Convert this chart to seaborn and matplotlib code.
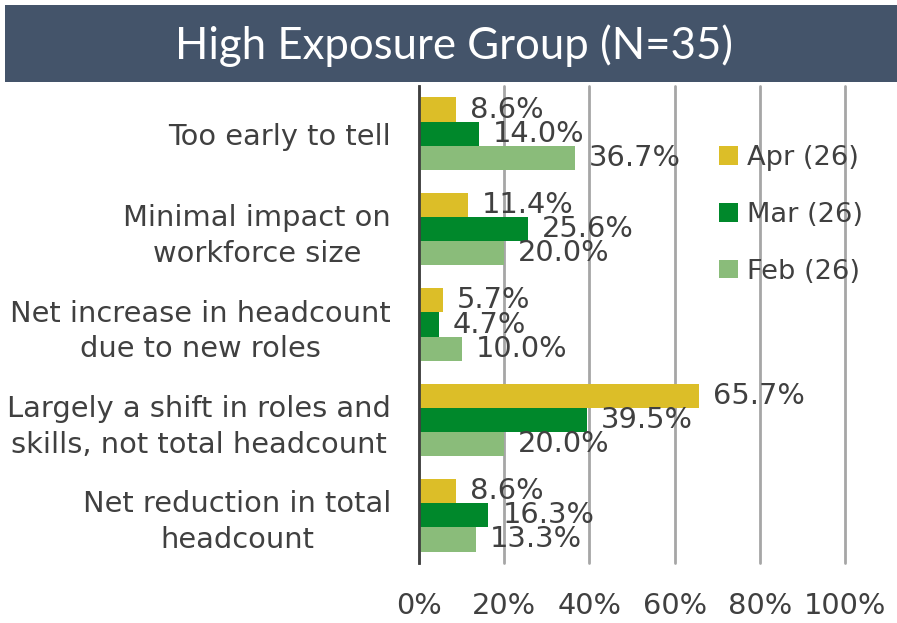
import matplotlib
matplotlib.use("Agg")
import matplotlib.pyplot as plt
from matplotlib.patches import Rectangle
import pandas as pd
import seaborn as sns

# chart data
categories = [
    "Too early to tell",
    "Minimal impact on\nworkforce size",
    "Net increase in headcount\ndue to new roles",
    "Largely a shift in roles and\nskills, not total headcount",
    "Net reduction in total\nheadcount",
]
series_names = ["Apr (26)", "Mar (26)", "Feb (26)"]
apr_values = [8.6, 11.4, 5.7, 65.7, 8.6]
mar_values = [14.0, 25.6, 4.7, 39.5, 16.3]
feb_values = [36.7, 20.0, 10.0, 20.0, 13.3]
x_ticks = [0, 20, 40, 60, 80, 100]
x_tick_labels = ["0%", "20%", "40%", "60%", "80%", "100%"]
title = "High Exposure Group (N=35)"

colors = {"Apr (26)": "#DCBE28", "Mar (26)": "#00882B", "Feb (26)": "#8ABC7A"}
text_color = "#404040"
fs = 20.8

# long-form table for seaborn
rows = []
for name, vals in zip(series_names, [apr_values, mar_values, feb_values]):
    for cat, v in zip(categories, vals):
        rows.append({"category": cat, "series": name, "value": v})
df = pd.DataFrame(rows)

sns.set_theme(style="white")
plt.rcParams["font.family"] = ["DejaVu Sans"]

fig = plt.figure(figsize=(8.97, 6.23), dpi=100)
ax = fig.add_axes([419 / 897, 1 - 563 / 623, (845 - 419) / 897, (563 - 86) / 623])

sns.barplot(data=df, x="value", y="category", hue="series", orient="h",
            hue_order=series_names, order=categories, palette=colors,
            saturation=1, width=0.76, errorbar=None, linewidth=0, ax=ax)

# value labels
for cont in ax.containers:
    ax.bar_label(cont, labels=[f"{v:.1f}%" for v in cont.datavalues],
                 padding=10, fontsize=fs, color=text_color)

ax.set_xlim(0, 100)
ax.set_ylim(4.5, -0.5)
ax.set_xticks(x_ticks)
ax.set_xticklabels(x_tick_labels, fontsize=fs, color=text_color)
ax.tick_params(axis="x", length=0, pad=21)
ax.tick_params(axis="y", length=0, pad=20)
for lbl in ax.get_yticklabels():
    lbl.set_fontsize(fs)
    lbl.set_color(text_color)
    lbl.set_multialignment("center")
    lbl.set_linespacing(1.35)
ax.set_xlabel("")
ax.set_ylabel("")

ax.xaxis.grid(True, color="#A6A6A6", linewidth=2)
for gl in ax.get_xgridlines():
    gl.set_clip_on(False)
ax.set_axisbelow(True)
for side in ["top", "right", "bottom"]:
    ax.spines[side].set_visible(False)
ax.spines["left"].set_color(text_color)
ax.spines["left"].set_linewidth(2)
ax.spines["left"].set_zorder(5)

handles, labels = ax.get_legend_handles_labels()
ax.legend(handles, labels, loc="upper left", bbox_to_anchor=(719 / 897, 1 - 145 / 623),
          bbox_transform=fig.transFigure, frameon=False, fontsize=19.6,
          handlelength=0.68, handleheight=0.68, handletextpad=0.35,
          labelspacing=1.13, borderpad=0, borderaxespad=0, labelcolor=text_color)

# title banner
fig.patches.append(Rectangle((5 / 897, 1 - 82 / 623), 1 - 5 / 897, 77 / 623,
                             transform=fig.transFigure, facecolor="#44546A",
                             edgecolor="none", zorder=0))
fig.text(454 / 897, 1 - 46 / 623, title, ha="center", va="center",
         color="white", fontsize=31.5, fontweight="normal",
         family=["Lato", "DejaVu Sans"])

fig.savefig("out.png", dpi=100)
